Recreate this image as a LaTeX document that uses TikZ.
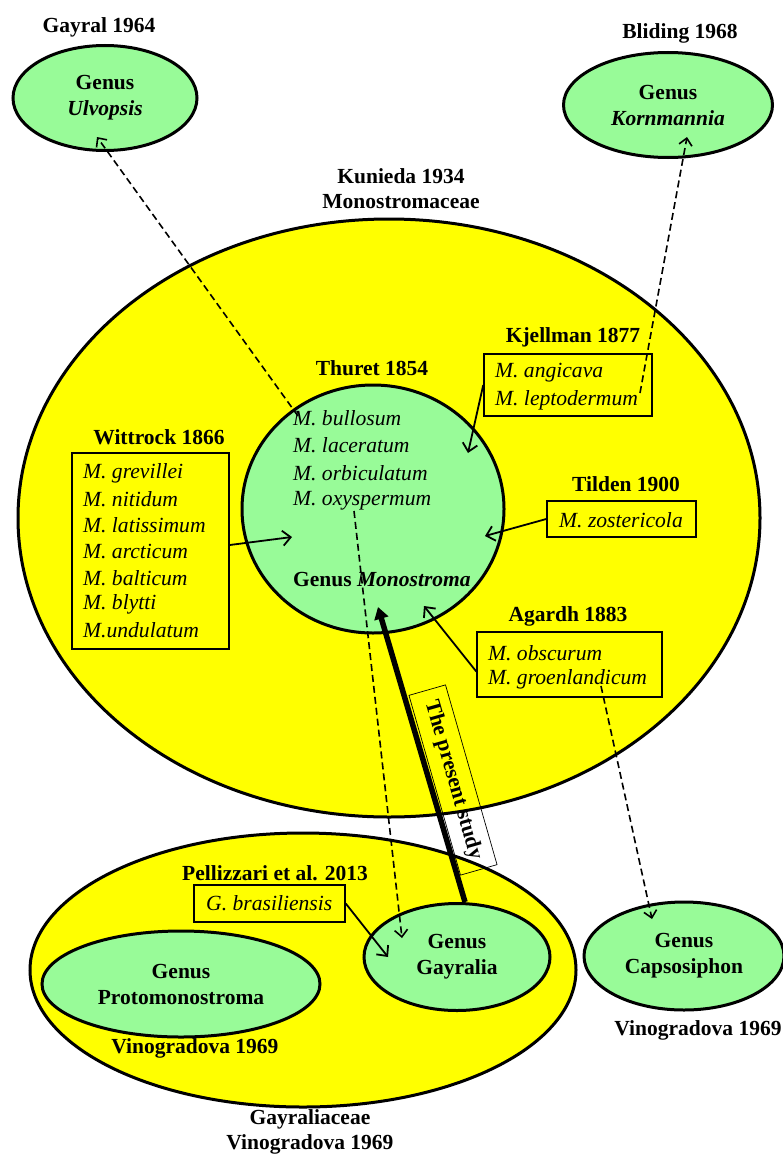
\documentclass[tikz,border=0pt]{standalone}
\usepackage{fontspec}
\setmainfont{Liberation Serif}
\usetikzlibrary{shapes.geometric,arrows.meta}
\definecolor{taxgreen}{RGB}{152,251,152}
\definecolor{taxyellow}{RGB}{255,255,0}

\begin{document}
\begin{tikzpicture}[x=1pt,y=-1pt,
  every node/.style={font=\fontsize{21.5}{26}\selectfont},
  famly/.style={ellipse,draw,line width=3pt,fill=taxyellow,inner sep=0pt},
  genus/.style={ellipse,draw,line width=3pt,fill=taxgreen,inner sep=0pt,align=center,font=\fontsize{21.5}{26}\selectfont\bfseries},
  author/.style={font=\fontsize{21.5}{25}\selectfont\bfseries,align=center,inner sep=0pt},
  spbox/.style={draw,line width=1.5pt,inner sep=0pt},
  spname/.style={font=\fontsize{21.6}{26}\selectfont\itshape,inner sep=0pt,anchor=west},
  link/.style={line width=1.8pt,-{Straight Barb[length=8pt,width=15pt]}},
  moved/.style={line width=1.6pt,dash pattern=on 7pt off 4pt,-{Straight Barb[length=7pt,width=13pt]}}
]

% page size:
\useasboundingbox (0,0) rectangle (782,1156);
% line spacing of the lists:
\pgfmathsetmacro\lsp{26.2};

% families
\node[famly,minimum width=742,minimum height=598] (monfam) at (389,518) {};
\node[famly,minimum width=546,minimum height=274] (gayfam) at (303,970) {};

% genera
\node[genus,minimum width=262,minimum height=248] (mono) at (373,509) {};
\node[genus,minimum width=184,minimum height=105] (ulvo) at (105,98) {Genus\\\textit{Ulvopsis}};
\node[genus,minimum width=209,minimum height=105] (korn) at (668,105) {Genus\\\textit{Kornmannia}};
\node[genus,minimum width=278,minimum height=106] (proto) at (181,984) {Genus\\Protomonostroma};
\node[genus,minimum width=186,minimum height=107] (gayr) at (457,957) {Genus\\Gayralia};
\node[genus,minimum width=200,minimum height=108] (caps) at (684,956) {Genus\\Capsosiphon};

% authors
\node[author] (gayral) at (99,27) {Gayral 1964};
\node[author] (bliding) at (680,33) {Bliding 1968};
\node[author] (kunieda) at (401,189) {Kunieda 1934\\Monostromaceae};
\node[author] (thuret) at (372,368) {Thuret 1854};
\node[author] (wittrock) at (159,437) {Wittrock 1866};
\node[author] (kjellman) at (573,337) {Kjellman 1877};
\node[author] (tilden) at (626,484) {Tilden 1900};
\node[author] (agardh) at (568,616) {Agardh 1883};
\node[author] (pellizzari) at (275,873) {Pellizzari et al. 2013};
\node[author] (vinoproto) at (195,1048) {Vinogradova 1969};
\node[author] (vinocaps) at (698,1030) {Vinogradova 1969};
\node[author] (gayraliaceae) at (310,1132) {Gayraliaceae\\Vinogradova 1969};

% Thuret species
\foreach \sp [count=\i] in {bullosum,laceratum,orbiculatum,oxyspermum}
  \node[spname] (thu\i) at (293,{390.5+27.5*\i}) {M. \sp};
\node[spname,font=\fontsize{21.5}{26}\selectfont\bfseries] (mononame) at (293,580) {Genus \textit{Monostroma}};

% Wittrock species
\node[spbox,minimum width=157,minimum height=196] (wit) at (150.5,551) {};
\foreach \sp [count=\i] in {M. grevillei,M. nitidum,M. latissimum,M. arcticum,M. balticum,M. blytti,M.undulatum}
  \node[spname] (wit\i) at (83,{446.8+\lsp*\i}) {\sp};

% Kjellman species
\node[spbox,minimum width=168,minimum height=62] (kje) at (568,385) {};
\foreach \sp [count=\i] in {angicava,leptodermum}
  \node[spname] (kje\i) at (495,{346+27*\i}) {M. \sp};

% Tilden species
\node[spbox,minimum width=149,minimum height=36] (til) at (621.5,519) {};
\node[spname] (til1) at (559,520) {M. zostericola};

% Agardh species
\node[spbox,minimum width=185,minimum height=65] (agd) at (569.5,664.5) {};
\foreach \sp [count=\i] in {obscurum,groenlandicum}
  \node[spname] (agd\i) at (488,{627+26*\i}) {M. \sp};

% Pellizzari species
\node[spbox,minimum width=151,minimum height=37] (gbr) at (269.5,903.5) {};
\node[spname] (gbr1) at (206,903) {G. brasiliensis};

% the present study
\node[draw,line width=0.7pt,rotate=-74,minimum width=187,minimum height=38,inner sep=0pt,
  font=\fontsize{21.5}{25}\selectfont\bfseries] (study) at (453,780) {The present study};

% arrow ends
\coordinate (bullfoot) at (298,416);
\coordinate (oxyfoot) at (354,511);
\coordinate (leptfoot) at (640,393);
\coordinate (groefoot) at (601,686);
\coordinate (ulvtip) at (97,137);
\coordinate (korntip) at (687,137);
\coordinate (gayrtip) at (402,938);
\coordinate (capstip) at (652,919);
\coordinate (witarr) at (292,537);
\coordinate (kjearr) at (468,453);
\coordinate (tilarr) at (485,536);
\coordinate (agdarr) at (424,606);
\coordinate (gbrarr) at (388,957);
\coordinate (studyarr) at (378,607);

\draw[link] ([yshift=6pt]wit.east) -- (witarr);
\draw[link] (kje.west) -- (kjearr);
\draw[link] (til.west) -- (tilarr);
\draw[link] ([yshift=-7pt]agd.west) -- (agdarr);
\draw[link] (gbr.east) -- (gbrarr);

\draw[moved] (bullfoot) -- (ulvtip);
\draw[moved] (leptfoot) -- (korntip);
\draw[moved] (oxyfoot) -- (gayrtip);
\draw[moved] (groefoot) -- (capstip);

\draw[line width=5.5pt,-{Triangle[length=12pt,width=14pt]}] ([xshift=8pt]gayr.north) -- (studyarr);

\end{tikzpicture}
\end{document}
